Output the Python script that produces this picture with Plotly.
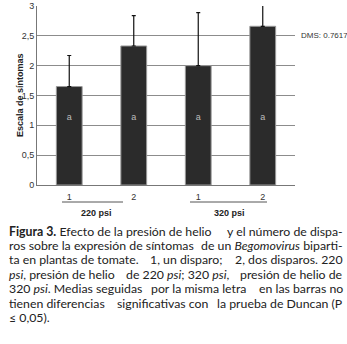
import re
import plotly.graph_objects as go

# ---- data ----
categories = ["220-1", "220-2", "320-1", "320-2"]
tick_labels = ["1", "2", "1", "2"]
means = [1.65, 2.33, 2.00, 2.66]
err_up = [0.52, 0.51, 0.89, 0.50]
letters = ["a", "a", "a", "a"]
group_labels = ["220 psi", "320 psi"]
dms_label = "DMS: 0.7617"
y_title = "Escala de síntomas"
y_ticks = [0, 0.5, 1, 1.5, 2, 2.5, 3]
y_ticktext = ["0", "0,5", "1", "1,5", "2", "2,5", "3"]
# each caption line split into parts that are spread between the margins
caption_lines = [
    ["<b>Figura 3.</b> Efecto de la presión de helio", "y el número de dispa-"],
    ["ros sobre la expresión de síntomas", "de un <i>Begomovirus</i> biparti-"],
    ["ta en plantas de tomate.", "1, un disparo;", "2, dos disparos. 220"],
    ["<i>psi</i>, presión de helio", "de 220 <i>psi</i>; 320 <i>psi</i>,", "presión de helio de"],
    ["320 <i>psi</i>. Medias seguidas", "por la misma letra", "en las barras no"],
    ["tienen diferencias", "significativas con", "la prueba de Duncan (P"],
    ["≤ 0,05)."],
]

W, H = 347, 344
L, R, T, B = 37, 52, 6, 159
pw, ph = W - L - R, H - T - B

def px(x):
    return (x - L) / pw

def py(y):
    return (H - B - y) / ph

xs = list(range(len(categories)))

fig = go.Figure()
fig.add_trace(go.Bar(
    x=xs, y=means,
    marker=dict(color="#2b2b2b", line=dict(color="#9a9a9a", width=1)),
    error_y=dict(type="data", array=err_up, arrayminus=[0] * len(err_up),
                 symmetric=False, color="#111", thickness=1.2, width=2),
    width=0.4,
    hoverinfo="skip",
))
fig.add_trace(go.Scatter(
    x=xs, y=[1.12] * len(xs), mode="text", text=letters,
    textfont=dict(family="Liberation Sans, Arial", size=9, color="#bdbdbd"),
    hoverinfo="skip",
))

fig.update_layout(
    width=W, height=H,
    margin=dict(l=L, r=R, t=T, b=B, autoexpand=False),
    paper_bgcolor="white", plot_bgcolor="white",
    showlegend=False,
    font=dict(family="Liberation Sans, Arial", size=9, color="#333"),
    xaxis=dict(range=[-0.5, 3.5], tickvals=xs, ticktext=tick_labels,
               showgrid=False, showline=True, linecolor="#777", linewidth=1,
               ticks="", ticklabelstandoff=3, zeroline=False, tickfont=dict(size=9)),
    yaxis=dict(range=[0, 3], tickvals=y_ticks, ticktext=y_ticktext,
               showgrid=True, gridcolor="#8c8c8c", gridwidth=1,
               showline=True, linecolor="#777", linewidth=1,
               ticks="", zeroline=False, tickfont=dict(size=9)),
)

ann = []
ann.append(dict(x=px(20), y=py(95), xref="paper", yref="paper", text="<b>" + y_title + "</b>",
                textangle=-90, showarrow=False, xanchor="center", yanchor="middle",
                font=dict(family="Liberation Sans, Arial", size=9, color="#222")))
ann.append(dict(x=px(299), y=2.5, xref="paper", yref="y", text=dms_label,
                xanchor="left", yanchor="middle",
                showarrow=False, font=dict(family="Liberation Sans, Arial", size=8, color="#333")))
group_lines = [(62, 123), (190, 267)]
group_centers = [96, 229]
shapes = []
for (a, b), c, lab in zip(group_lines, group_centers, group_labels):
    shapes.append(dict(type="line", xref="paper", yref="paper", x0=px(a), x1=px(b),
                       y0=py(202), y1=py(202), line=dict(color="#555", width=1)))
    ann.append(dict(x=px(c), y=py(213), xref="paper", yref="paper", text="<b>" + lab + "</b>",
                    xanchor="center", yanchor="middle",
                    showarrow=False, font=dict(family="Liberation Sans, Arial", size=9, color="#222")))

# approximate Lato advance widths (em) for placing the middle chunk
EM = {" ": 0.19, "i": 0.23, "l": 0.23, "j": 0.23, "t": 0.33, "f": 0.31, "r": 0.35,
      ",": 0.2, ".": 0.2, ";": 0.2, ":": 0.2, "(": 0.3, ")": 0.3, "m": 0.84, "w": 0.78,
      "s": 0.43, "a": 0.5, "e": 0.52, "c": 0.46, "z": 0.45, "y": 0.5, "v": 0.5, "k": 0.5}

def tw(s, size):
    s = re.sub("<[^>]+>", "", s)
    return sum(EM.get(ch, 0.58 if ch.isupper() or ch.isdigit() else 0.55) for ch in s) * size

X0, X1 = 7, 345
FS = 12.3
cap_font = dict(family="Lato, Open Sans", size=FS, color="#222")
for i, parts in enumerate(caption_lines):
    yy = py(231 + i * 14.4)
    ann.append(dict(x=px(X0), y=yy, xref="paper", yref="paper", text=parts[0],
                    xanchor="left", yanchor="middle", showarrow=False, font=cap_font))
    if len(parts) >= 2:
        ann.append(dict(x=px(X1), y=yy, xref="paper", yref="paper", text=parts[-1],
                        xanchor="right", yanchor="middle", showarrow=False, font=cap_font))
    if len(parts) == 3:
        cx = X0 + ((X1 - X0) + tw(parts[0], FS) - tw(parts[2], FS)) / 2
        ann.append(dict(x=px(cx), y=yy, xref="paper", yref="paper", text=parts[1],
                        xanchor="center", yanchor="middle", showarrow=False, font=cap_font))

fig.update_layout(annotations=ann, shapes=shapes)
fig.write_html("out.html", config={"displayModeBar": False},
               post_script="document.body.style.margin='0';document.body.style.overflow='hidden';")
